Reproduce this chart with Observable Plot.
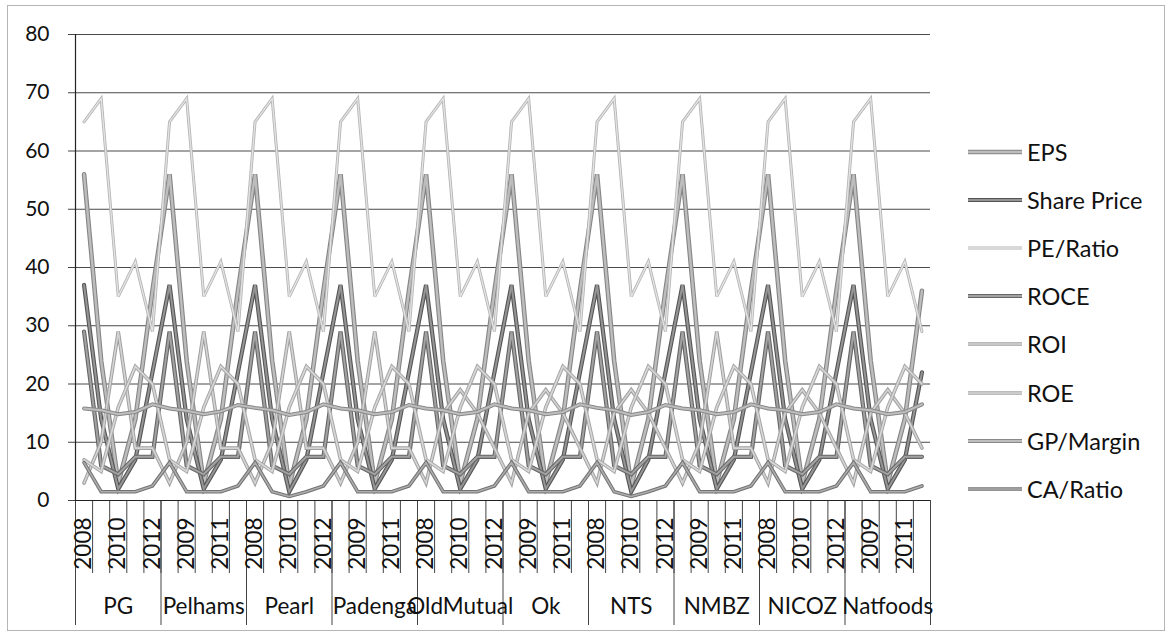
<!DOCTYPE html>
<html><head><meta charset="utf-8">
<script src="https://cdn.jsdelivr.net/npm/d3@7"></script>
<script src="https://cdn.jsdelivr.net/npm/@observablehq/plot@0.6"></script>
<style>
body{margin:0;background:#fff;font-family:Lato,"Open Sans",sans-serif;}
#wrap{position:relative;width:1171px;height:635px;overflow:hidden;background:#fff;}
#frame{position:absolute;left:7px;top:5px;width:1158px;height:626px;border:1px solid #b5b5b5;box-sizing:border-box;}
#chart{position:absolute;left:0;top:0;}
#legend{position:absolute;left:968px;top:128px;}
.item{display:flex;align-items:center;height:48.1px;font-size:23.5px;color:#111;white-space:nowrap;}
.item svg{margin-right:5px;}
</style></head>
<body><div id="wrap"><div id="frame"></div><div id="chart"></div><div id="legend"></div></div>
<script>
const companies = ["PG","Pelhams","Pearl","Padenga","OldMutual","Ok","NTS","NMBZ","NICOZ","Natfoods"];
const years = [2008,2009,2010,2011,2012];
const seriesNames = ["EPS","Share Price","PE/Ratio","ROCE","ROI","ROE","GP/Margin","CA/Ratio"];

const EPS = [56,24,3,14,36, 56,24,3,14,36, 56,24,2.5,14,36, 56,24,3,14,36, 56,24,3,14,36,
             56,24,3,14,36, 56,24,2.5,14,36, 56,24,3,14,36, 56,24,3,14,36, 56,24,3,14,36];
const SharePrice = [37,14,2,7,22, 37,14,2,7,22, 37,14,1.5,7,22, 37,14,2,7,22, 37,14,2,7,22,
                    37,14,2,7,22, 37,14,1.5,7,22, 37,14,2,7,22, 37,14,2,7,22, 37,14,2,7,22];
const PERatio = [65,69,35,41,29, 65,69,35,41,29, 65,69,35,41,29, 65,69,35,41,29, 65,69,35,41,29,
                 65,69,35,41,29, 65,69,35,41,29, 65,69,35,41,29, 65,69,35,41,29, 65,69,35,41,29];
const ROCE = [29,6,4.5,7.5,7.5, 29,6,4.5,7.5,7.5, 29,6,4.5,7.5,7.5, 29,6,4.5,7.5,7.5, 29,6,4.5,7.5,7.5,
              29,6,4.5,7.5,7.5, 29,6,4.5,7.5,7.5, 29,6,4.5,7.5,7.5, 29,6,4.5,7.5,7.5, 29,6,4.5,7.5,7.5];
const ROI = [3,10,29,9,9, 3,10,29,9,9, 3,10,29,9,9, 3,10,29,9,9, 3,15,19,15,9,
             3,15,19,15,9, 3,15,19,15,9, 3,10,29,9,9, 3,15,19,15,9, 3,15,19,15,9];
const ROE = [7,5,16,23,20, 7,5,16,23,20, 7,5,16,23,20, 7,5,16,23,20, 7,5,16,23,20,
             7,5,16,23,20, 7,5,16,23,20, 7,5,16,23,20, 7,5,16,23,20, 7,5,16,23,20];
const GPMargin = [15.8,15.5,14.8,15.2,16.5, 15.8,15.4,14.8,15.3,16.4, 15.9,15.5,14.7,15.2,16.5, 15.8,15.5,14.8,15.2,16.4, 15.8,15.5,14.8,15.2,16.5,
                  15.8,15.5,14.8,15.2,16.5, 15.9,15.5,14.7,15.2,16.4, 15.8,15.5,14.8,15.2,16.5, 15.8,15.5,14.8,15.2,16.5, 15.8,15.5,14.8,15.2,16.5];
const CARatio = [6.5,1.5,1.5,1.5,2.5, 6.5,1.5,1.5,1.5,2.5, 6.5,1.5,0.7,1.5,2.5, 6.5,1.5,1.5,1.5,2.5, 6.5,1.5,1.5,1.5,2.5,
                 6.5,1.5,1.5,1.5,2.5, 6.5,1.5,0.7,1.5,2.5, 6.5,1.5,1.5,1.5,2.5, 6.5,1.5,1.5,1.5,2.5, 6.5,1.5,1.5,1.5,2.5];
const yTicks = [0,10,20,30,40,50,60,70,80];

const seriesValues = [EPS, SharePrice, PERatio, ROCE, ROI, ROE, GPMargin, CARatio];
const styles = {
  "EPS":        {outer:"#858585", inner:"#bdbdbd", ow:4.6, iw:2.4},
  "Share Price":{outer:"#555555", inner:"#959595", ow:4.2, iw:2},
  "PE/Ratio":   {outer:"#b4b4b4", inner:"#e4e4e4", ow:3,   iw:1.3},
  "ROCE":       {outer:"#666666", inner:"#a2a2a2", ow:4.2, iw:2},
  "ROI":        {outer:"#a0a0a0", inner:"#d4d4d4", ow:3.6, iw:1.6},
  "ROE":        {outer:"#a6a6a6", inner:"#d8d8d8", ow:3.6, iw:1.6},
  "GP/Margin":  {outer:"#888888", inner:"#bebebe", ow:4,   iw:2},
  "CA/Ratio":   {outer:"#737373", inner:"#adadad", ow:3.6, iw:1.6}
};

const nYears = years.length;
const n = companies.length * nYears;
const rows = [];
seriesNames.forEach((s, k) => seriesValues[k].forEach((v, i) => rows.push({series: s, i, value: v})));

const boundaries = d3.range(n + 1).map(i => i - 0.5);
const groupBounds = d3.range(companies.length + 1).map(g => g * nYears - 0.5);
const yearTicks = d3.range(0, n, 2);
const groupCenters = companies.map((c, g) => g * nYears + (nYears - 1) / 2);

const lineMarks = [];
seriesNames.forEach(s => {
  const st = styles[s];
  const d = rows.filter(r => r.series === s);
  lineMarks.push(Plot.line(d, {x: "i", y: "value", stroke: st.outer, strokeWidth: st.ow, strokeLinejoin: "miter", strokeMiterlimit: 3}));
  lineMarks.push(Plot.line(d, {x: "i", y: "value", stroke: st.inner, strokeWidth: st.iw, strokeLinejoin: "miter", strokeMiterlimit: 3}));
});

const chart = Plot.plot({
  width: 945, height: 635,
  marginLeft: 75, marginRight: 15, marginTop: 34, marginBottom: 135,
  x: {type: "linear", domain: [-0.5, n - 0.5]},
  y: {domain: [0, 80]},
  style: {fontFamily: "Lato, 'Open Sans', sans-serif", color: "#222", background: "transparent", overflow: "visible"},
  marks: [
    Plot.ruleY(yTicks.filter(t => t > 0), {stroke: "#4a4a4a", strokeWidth: 1}),
    Plot.axisY({ticks: yTicks, tickSize: 7, tickPadding: 19, fontSize: 21, label: null, stroke: "#444", fill: "#111"}),
    Plot.axisX({ticks: boundaries, tickSize: 73, tickFormat: () => "", label: null, stroke: "#444"}),
    Plot.axisX({ticks: groupBounds, tickSize: 125, tickFormat: () => "", label: null, stroke: "#444"}),
    Plot.axisX({ticks: yearTicks, tickSize: 0, tickRotate: -90, tickPadding: 17, fontSize: 22.5, fill: "#111",
                tickFormat: t => String(years[t % nYears]), label: null}),
    Plot.axisX({ticks: groupCenters, tickSize: 0, tickPadding: 98, fontSize: 22.5, fill: "#111",
                tickFormat: t => companies[Math.round((t - (nYears - 1) / 2) / nYears)], label: null}),
    ...lineMarks,
    Plot.ruleX([-0.5], {stroke: "#222", strokeWidth: 1.2}),
    Plot.ruleY([0], {stroke: "#222", strokeWidth: 1.2})
  ]
});
document.getElementById("chart").appendChild(chart);

const legend = document.getElementById("legend");
seriesNames.forEach(s => {
  const st = styles[s];
  const item = document.createElement("div");
  item.className = "item";
  item.innerHTML = `<svg width="54" height="10"><line x1="0" y1="5" x2="54" y2="5" stroke="${st.outer}" stroke-width="${st.ow}"/><line x1="0" y1="5" x2="54" y2="5" stroke="${st.inner}" stroke-width="${st.iw}"/></svg><span>${s}</span>`;
  legend.appendChild(item);
});
</script>
</body></html>
